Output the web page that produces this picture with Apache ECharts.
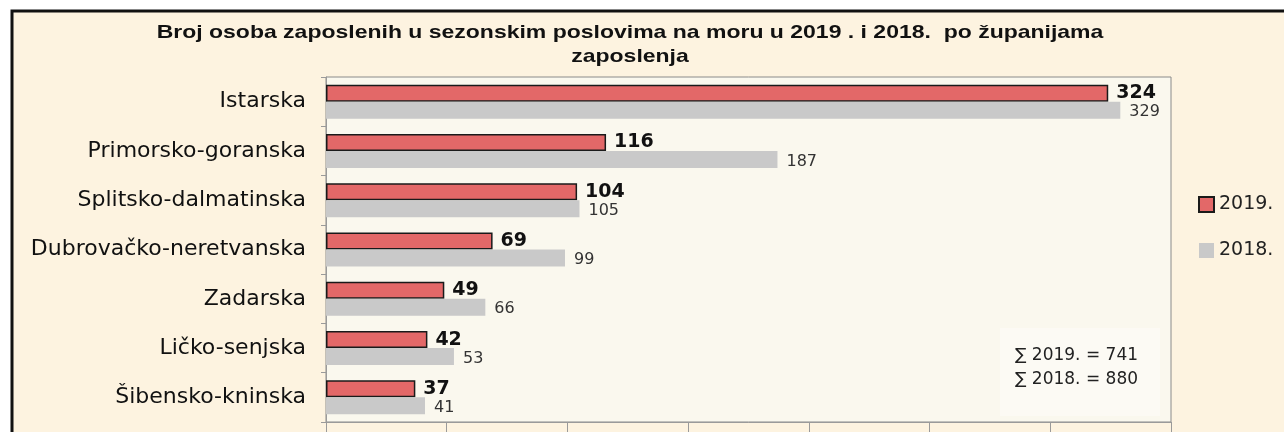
<!DOCTYPE html>
<html>
<head>
<meta charset="utf-8">
<script src="https://cdn.jsdelivr.net/npm/echarts@6/dist/echarts.min.js"></script>
<style>
	html, body { margin: 0; padding: 0; background: #fff; }
	#chart { width: 1284px; height: 432px; }
</style>
</head>
<body>
<div id="chart"></div>
<script>
// podaci po županijama
const zupanije = ['Istarska', 'Primorsko-goranska', 'Splitsko-dalmatinska', 'Dubrovačko-neretvanska', 'Zadarska', 'Ličko-senjska', 'Šibensko-kninska']
const god2019 = [324, 116, 104, 69, 49, 42, 37]
const god2018 = [329, 187, 105, 99, 66, 53, 41]
const legendNames = ['2019.', '2018.']
const naslov = 'Broj osoba zaposlenih u sezonskim poslovima na moru u 2019 . i 2018.  po županijama\nzaposlenja'

const sum = arr => arr.reduce((a, b) => a + b, 0)

const chart = echarts.init(document.getElementById('chart'), null, { renderer: 'canvas' })

const option = {
	backgroundColor: '#ffffff',
	animation: false,
	legend: {
		orient: 'vertical',
		left: 1198,
		top: 195,
		padding: 0,
		itemWidth: 15,
		itemHeight: 15,
		itemGap: 27,
		icon: 'rect',
		textStyle: {
			fontFamily: 'DejaVu Sans',
			fontSize: 19,
			color: '#222',
		},
		data: legendNames,
	},
	grid: {
		left: 326,
		top: 77,
		width: 845,
		height: 345,
		show: true,
		backgroundColor: '#FAF8EE',
		borderColor: '#8a8a8a',
		borderWidth: 1,
	},
	xAxis: {
		type: 'value',
		min: 0,
		max: 350,
		interval: 50,
		axisLine: { show: true, lineStyle: { color: '#9a9a9a' } },
		axisTick: { show: true, length: 10, lineStyle: { color: '#9a9a9a' } },
		axisLabel: { show: false },
		splitLine: { show: false },
	},
	yAxis: {
		type: 'category',
		inverse: true,
		data: zupanije,
		axisLine: { show: true, lineStyle: { color: '#9a9a9a' } },
		axisTick: { show: true, length: 5, lineStyle: { color: '#9a9a9a' } },
		axisLabel: {
			margin: 20,
			fontFamily: 'DejaVu Sans',
			fontSize: 22,
			color: '#111',
		},
	},
	series: [
		{
			name: legendNames[0],
			type: 'bar',
			data: god2019,
			barWidth: 17,
			barGap: '0%',
			itemStyle: { color: '#E36868', borderColor: '#1a1a1a', borderWidth: 1.5 },
			label: {
				show: true,
				position: 'right',
				distance: 8,
				fontFamily: 'DejaVu Sans',
				fontWeight: 'bold',
				fontSize: 19,
				color: '#111',
			},
		},
		{
			name: legendNames[1],
			type: 'bar',
			data: god2018,
			barWidth: 17,
			barGap: '0%',
			itemStyle: { color: '#C9C9C9' },
			label: {
				show: true,
				position: 'right',
				distance: 9,
				offset: [0, 2],
				fontFamily: 'DejaVu Sans',
				fontSize: 16,
				color: '#333',
			},
		},
	],
	graphic: [
		{
			type: 'rect',
			z: -10,
			shape: { x: 12, y: 11, width: 1320, height: 460 },
			style: { fill: '#FDF3E0', stroke: '#111', lineWidth: 3 },
		},
		{
			// naslov, malo razvučen kao u originalu
			type: 'text',
			x: 630,
			y: 21,
			scaleX: 1.21,
			style: {
				text: naslov,
				align: 'center',
				verticalAlign: 'top',
				fontFamily: 'Liberation Sans',
				fontWeight: 'bold',
				fontSize: 19,
				lineHeight: 24,
				fill: '#111',
			},
		},
		{
			type: 'rect',
			z: 5,
			shape: { x: 1000, y: 328, width: 160, height: 88 },
			style: { fill: '#FCFAF4' },
		},
		{
			type: 'text',
			z: 6,
			left: 1015,
			top: 344,
			style: {
				text: '∑ 2019. = ' + sum(god2019) + '\n∑ 2018. = ' + sum(god2018),
				fontFamily: 'DejaVu Sans',
				fontSize: 17,
				lineHeight: 24,
				fill: '#222',
			},
		},
	],
}

chart.setOption(option)
</script>
</body>
</html>
